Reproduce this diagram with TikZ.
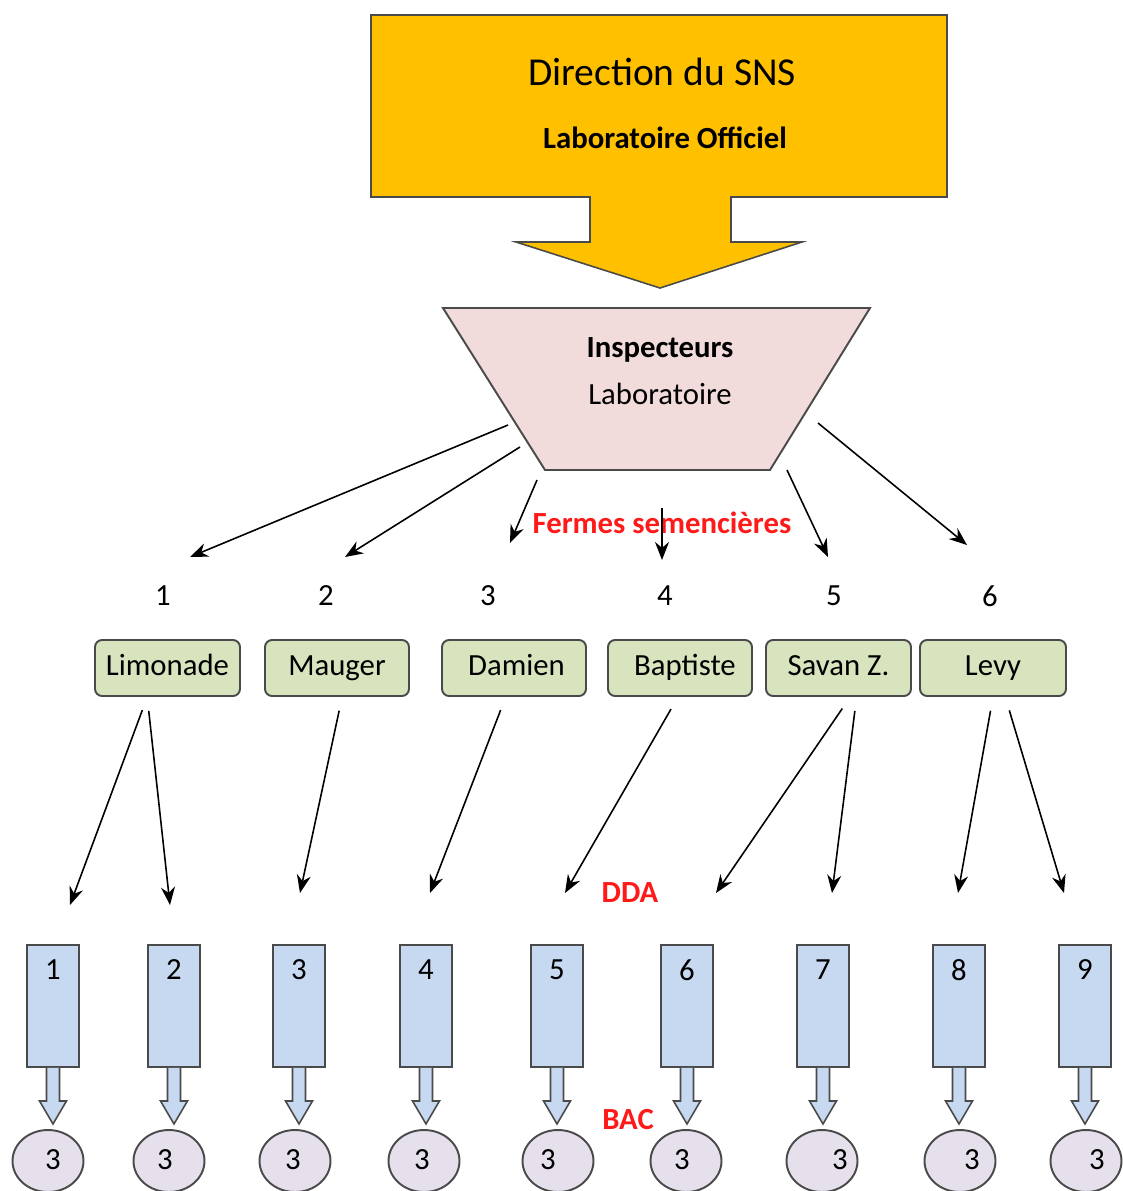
\documentclass[tikz,border=0pt]{standalone}
\usepackage{fontspec}
\setmainfont{Carlito}
\usetikzlibrary{shapes.geometric,arrows.meta,positioning}

\definecolor{snsorange}{HTML}{FFC000}
\definecolor{inspink}{HTML}{F2DCDB}
\definecolor{fermegreen}{HTML}{D7E4BD}
\definecolor{ddablue}{HTML}{C6D9F1}
\definecolor{baclilac}{HTML}{E6E0EC}
\definecolor{edgegray}{HTML}{4A4A4A}
\definecolor{lblred}{HTML}{FF1A1A}

\begin{document}
\begin{tikzpicture}[x=0.02cm, y=-0.02cm, >={Stealth[length=0.36cm,width=0.28cm]},
    font=\fontsize{17.5}{21}\selectfont,
    arr/.style={->, line width=0.9pt},
    ferme/.style={draw=edgegray, line width=1.1pt, fill=fermegreen, rounded corners=4pt, minimum height=1.12cm, text height=11pt, text depth=3pt},
    dda/.style={draw=edgegray, line width=1.1pt, fill=ddablue, minimum width=1.04cm, minimum height=2.44cm},
    bac/.style={ellipse, draw=edgegray, line width=1.1pt, fill=baclilac, minimum width=1.42cm, minimum height=1.24cm},
    redlbl/.style={text=lblred, font=\fontsize{17.5}{21}\selectfont\bfseries}]
    \useasboundingbox (0,0) rectangle (1123,1191);
    % Direction block arrow
    \draw[draw=edgegray, fill=snsorange, line width=0.9pt] (371,15) -- (947,15) -- (947,197) -- (731,197) -- (731,242) -- (802,242) -- (660,288) -- (516,242) -- (590,242) -- (590,197) -- (371,197) -- cycle;
    \node (dir) at (662,72) {\fontsize{22.5}{27}\selectfont Direction du SNS};
    \node[font=\fontsize{17.5}{21}\selectfont\bfseries] (labo) at (665,138) {Laboratoire Officiel};
    % Inspecteurs
    \draw[draw=edgegray, fill=inspink, line width=1.1pt] (443,308) -- (870,308) -- (770,470) -- (545,470) -- cycle;
    \node[font=\fontsize{17.5}{21}\selectfont\bfseries] (insp) at (660,350) {Inspecteurs};
    \node (lab) at (660,394) {Laboratoire};
    \node[redlbl] (fermes) at (662,523) {Fermes semencières};
    \foreach \i/\sx/\sy/\ex/\ey in {1/508/425/190/557, 2/520/447/345/557, 3/537/480/510/543, 4/662/508/662/560, 5/787/470/828/557, 6/818/423/967/545} {
        \coordinate (t\i) at (\sx,\sy);
        \coordinate (e\i) at (\ex,\ey);
        \draw[arr] (t\i) -- (e\i);
    }
    % Fermes
    \node (f1) at (163,596) {1};
    \node (f2) at (326,596) {2};
    \node (f3) at (488,596) {3};
    \node (f4) at (665,596) {4};
    \node (f5) at (834,596) {5};
    \node (f6) at (990,596) {6};
    \node[ferme, minimum width=2.9cm] (lim) at (167.5,668) {Limonade};
    \node[ferme, minimum width=2.88cm] (mau) at (337,668) {Mauger};
    \node[ferme, minimum width=2.88cm] (dam) at (514,668) {\hspace{0.1cm}Damien};
    \node[ferme, minimum width=2.88cm] (bap) at (680,668) {\hspace{0.2cm}Baptiste};
    \node[ferme, minimum width=2.9cm] (sav) at (838.5,668) {Savan Z.};
    \node[ferme, minimum width=2.92cm] (lev) at (993,668) {Levy\hspace{0.5cm}};
    % DDA
    \coordinate (d1) at (70,905);
    \coordinate (d2) at (170,905);
    \coordinate (d3) at (300,893);
    \coordinate (d4) at (430,893);
    \coordinate (d5) at (565,893);
    \coordinate (d6) at (716,893);
    \coordinate (d7) at (832,893);
    \coordinate (d8) at (958,893);
    \coordinate (d9) at (1064,893);
    \draw[arr, shorten <=0.28cm] (lim.235) -- (d1);
    \draw[arr, shorten <=0.28cm] (lim.235) -- (d2);
    \draw[arr, shorten <=0.28cm] (mau.280) -- (d3);
    \draw[arr, shorten <=0.28cm] (dam.254) -- (d4);
    \draw[arr, shorten <=0.28cm] (bap.266) -- (d5);
    \draw[arr, shorten <=0.28cm] (sav.292) -- (d6);
    \draw[arr, shorten <=0.28cm] (sav.302) -- (d7);
    \draw[arr, shorten <=0.28cm] (lev.270) -- (d8);
    \draw[arr, shorten <=0.28cm] (lev.293) -- (d9);
    \node[redlbl] (ddalbl) at (630,893) {DDA};
    \node[redlbl] (baclbl) at (628,1120) {BAC};
    % BAC
    \foreach \i/\rx/\ex/\tx in {1/53/48/53, 2/174/169/165, 3/299/295/293, 4/426/424/422, 5/557/558/548, 6/687/686/682, 7/823/822/840, 8/959/960/972, 9/1085/1086/1097} {
        \node[dda] (r\i) at (\rx,1006) {};
        \node (n\i) at (\rx,970) {\i};
        \node[bac] (b\i) at (\ex,1161) {};
        \node (v\i) at (\tx,1160) {3};
        \draw[draw=edgegray, fill=ddablue, line width=0.9pt] ([xshift=-0.13cm]r\i.south) -- ++(0,33) -- ++(-7,0) -- ++(13.5,23) -- ++(13.5,-23) -- ++(-7,0) -- ++(0,-33);
    }
\end{tikzpicture}
\end{document}
